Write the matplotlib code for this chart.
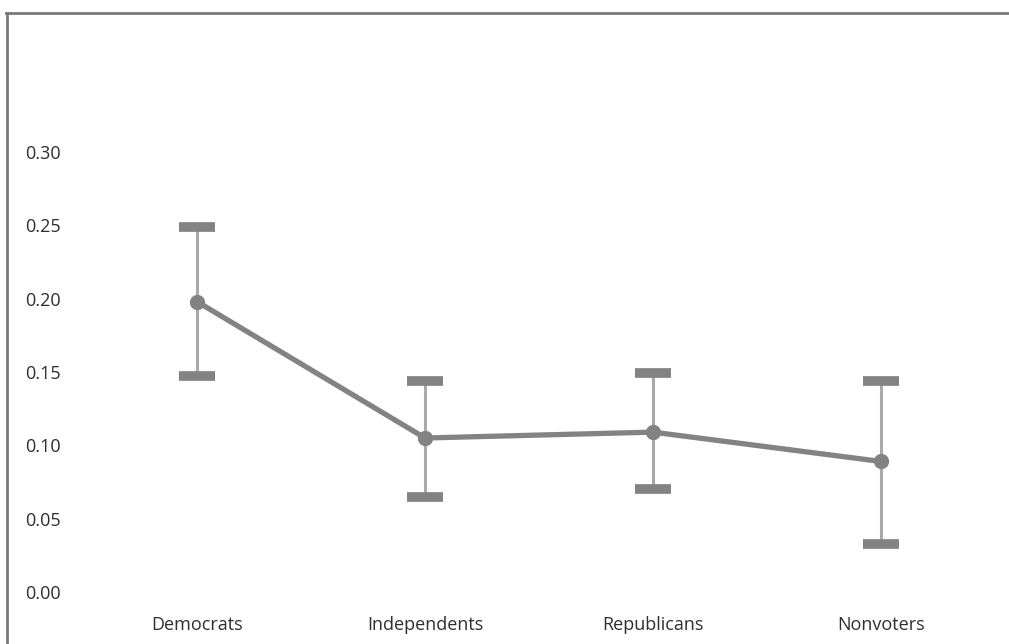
import matplotlib
matplotlib.use("Agg")
import matplotlib.pyplot as plt
from matplotlib.lines import Line2D

# Estimated values with confidence bounds per group
groups = ["Democrats", "Independents", "Republicans", "Nonvoters"]
estimates = [0.198, 0.105, 0.109, 0.089]
upper = [0.249, 0.144, 0.149, 0.144]
lower = [0.147, 0.065, 0.070, 0.033]
yticks = [0.00, 0.05, 0.10, 0.15, 0.20, 0.25, 0.30]

plt.rcParams["font.family"] = ["Open Sans", "DejaVu Sans"]

fig = plt.figure(figsize=(10.09, 6.44), dpi=100)
ax = fig.add_axes([83 / 1009, 1 - 592 / 644, 912 / 1009, (592 - 152) / 644])

x = list(range(len(groups)))
err_lo = [e - l for e, l in zip(estimates, lower)]
err_hi = [u - e for u, e in zip(upper, estimates)]

line, caps, bars = ax.errorbar(
    x, estimates, yerr=[err_lo, err_hi],
    fmt="none", ecolor="#a9a9a9", elinewidth=2.2,
    capsize=13, capthick=7, zorder=2,
)
for c in caps:
    c.set_markeredgecolor("#838383")

ax.plot(x, estimates, color="#838383", lw=3.8, marker="o", ms=10,
        markeredgecolor="#838383", markerfacecolor="#838383", zorder=3,
        solid_capstyle="round")

ax.set_xlim(-0.5, len(groups) - 0.5)
ax.set_ylim(0, 0.30)
ax.set_yticks(yticks)
ax.set_yticklabels([f"{v:.2f}" for v in yticks])
ax.set_xticks(x)
ax.set_xticklabels(groups)
ax.tick_params(axis="both", length=0, labelsize=13, colors="#2e2e2e")
ax.tick_params(axis="y", pad=16)
ax.tick_params(axis="x", pad=17)
for s in ax.spines.values():
    s.set_visible(False)

# Outer frame around the chart
frame_kw = dict(color="#7a7a7a", lw=2.0, transform=fig.transFigure)
fig.add_artist(Line2D([6 / 1009, 1.0], [1 - 13 / 644, 1 - 13 / 644], **frame_kw))
fig.add_artist(Line2D([7 / 1009, 7 / 1009], [1 - 13 / 644, 0.0], **frame_kw))

fig.savefig("out.png", dpi=100)
